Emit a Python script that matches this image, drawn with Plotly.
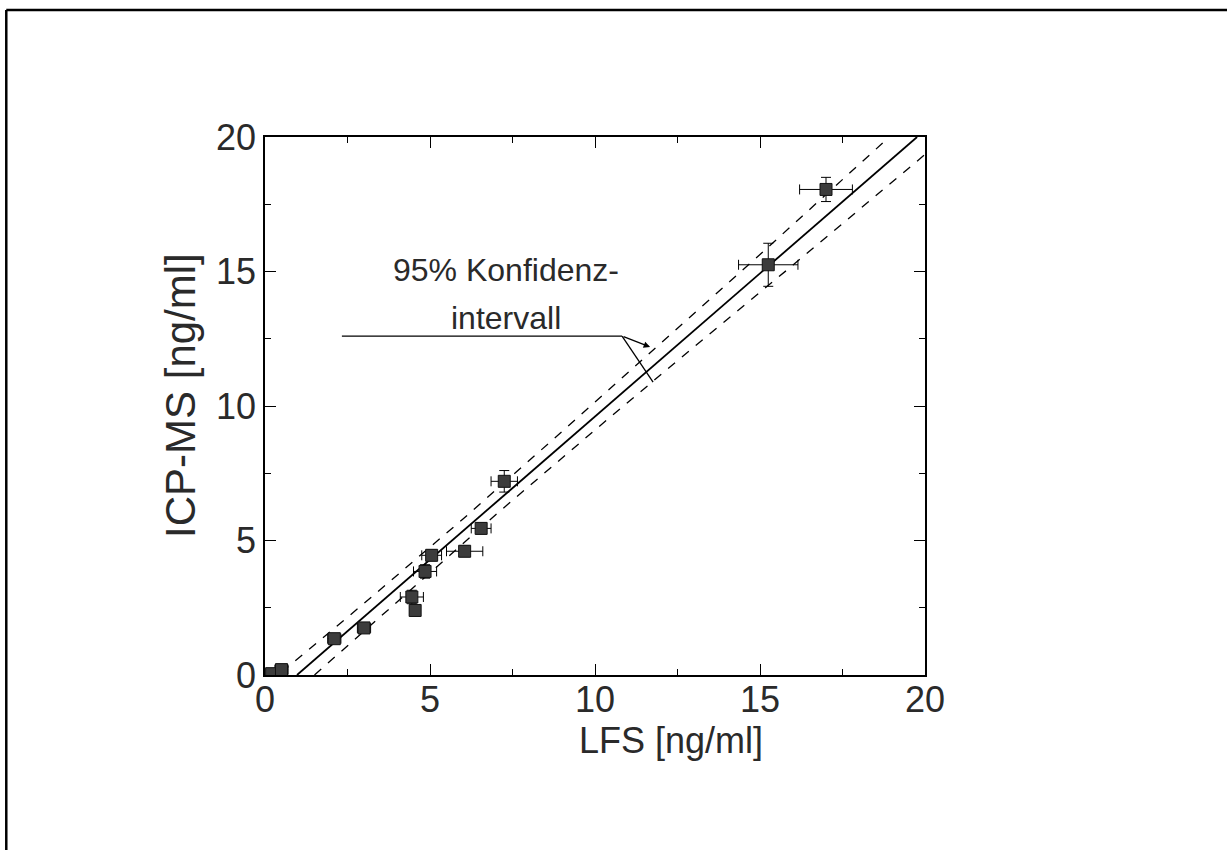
import plotly.graph_objects as go

# ---- data ----
lfs = [0.2, 0.5, 2.1, 3.0, 4.45, 4.55, 4.85, 5.05, 6.05, 6.55, 7.25, 15.25, 17.0]
icp = [0.05, 0.2, 1.35, 1.75, 2.9, 2.4, 3.85, 4.45, 4.6, 5.45, 7.2, 15.25, 18.05]
lfs_err = [0.15, 0.2, 0.2, 0.2, 0.35, 0.15, 0.35, 0.3, 0.55, 0.3, 0.4, 0.9, 0.8]
icp_err = [0.1, 0.1, 0.15, 0.15, 0.25, 0.2, 0.25, 0.2, 0.2, 0.2, 0.4, 0.8, 0.45]

fit_x = [0.97, 19.76]
fit_y = [0.0, 20.0]

upper_x = [0.5, 3, 6, 9, 12, 15, 18.9]
upper_y = [0.1, 2.66, 5.8, 9.05, 12.34, 15.63, 19.98]

lower_x = [1.5, 4, 7, 10, 13, 16, 20]
lower_y = [0.0, 2.73, 5.97, 9.11, 12.2, 15.24, 19.35]

tick_vals = [0, 5, 10, 15, 20]
tick_text = ["0", "5", "10", "15", "20"]

x_title = "LFS [ng/ml]"
y_title = "ICP-MS [ng/ml]"

FONT = "Liberation Sans, Arial, sans-serif"
TXT = "#2a2a2a"

fig = go.Figure()

fig.add_trace(go.Scatter(x=upper_x, y=upper_y, mode="lines",
                         line=dict(color="black", width=1.3, dash="dash"),
                         hoverinfo="skip", showlegend=False))
fig.add_trace(go.Scatter(x=lower_x, y=lower_y, mode="lines",
                         line=dict(color="black", width=1.3, dash="dash"),
                         hoverinfo="skip", showlegend=False))
fig.add_trace(go.Scatter(x=fit_x, y=fit_y, mode="lines",
                         line=dict(color="black", width=1.8),
                         hoverinfo="skip", showlegend=False))
fig.add_trace(go.Scatter(
    x=lfs, y=icp, mode="markers",
    marker=dict(symbol="square", size=12, color="#3c3c3c",
                line=dict(color="#111111", width=1)),
    error_x=dict(type="data", array=lfs_err, color="black", thickness=1, width=5),
    error_y=dict(type="data", array=icp_err, color="black", thickness=1, width=5),
    showlegend=False))

axis_common = dict(
    range=[0, 20], tickvals=tick_vals, ticktext=tick_text,
    showgrid=False, zeroline=False,
    showline=True, linecolor="black", linewidth=1.6, mirror="allticks",
    ticks="inside", ticklen=11, tickwidth=1.3, tickcolor="black",
    tickfont=dict(family=FONT, size=36, color=TXT),
    minor=dict(ticks="inside", ticklen=6, tickwidth=1.1, tickcolor="black", dtick=2.5, tick0=0),
)

fig.update_xaxes(**axis_common, ticklabelstandoff=-8)
fig.update_yaxes(**axis_common)

# axis titles (placed as in the reference)
fig.add_annotation(xref="paper", yref="paper", x=0.615, y=-0.121, text=x_title,
                   xanchor="center", yanchor="middle",
                   showarrow=False, font=dict(family=FONT, size=36, color=TXT))
fig.add_annotation(xref="paper", yref="paper", x=-0.127, y=0.519, text=y_title,
                   xanchor="center", yanchor="middle",
                   textangle=-90, showarrow=False, font=dict(family=FONT, size=42, color=TXT))

# annotation text
fig.add_annotation(x=7.3, y=15.06, text="95% Konfidenz-", showarrow=False,
                   font=dict(family=FONT, size=32, color=TXT))
fig.add_annotation(x=7.3, y=13.27, text="intervall", showarrow=False,
                   font=dict(family=FONT, size=32, color=TXT))
# leader lines
fig.add_shape(type="line", x0=2.33, y0=12.6, x1=10.82, y1=12.6,
              line=dict(color="black", width=1.3))
fig.add_shape(type="line", x0=10.82, y0=12.6, x1=11.76, y1=10.89,
              line=dict(color="black", width=1.3))
fig.add_annotation(x=11.67, y=12.19, ax=10.82, ay=12.6, axref="x", ayref="y",
                   xref="x", yref="y", showarrow=True, arrowhead=2,
                   arrowsize=1, arrowwidth=1.3, arrowcolor="black", text="")

# outer frame (top and left edges)
fig.add_shape(type="line", xref="paper", yref="paper",
              x0=-0.392, y0=1.236, x1=1.46, y1=1.236,
              line=dict(color="black", width=2.5))
fig.add_shape(type="line", xref="paper", yref="paper",
              x0=-0.392, y0=1.236, x1=-0.392, y1=-0.33,
              line=dict(color="black", width=2.5))

fig.update_layout(
    width=1227, height=850,
    margin=dict(l=265, r=302, t=137, b=175),
    plot_bgcolor="white", paper_bgcolor="white",
    showlegend=False,
)

fig.write_html("out.html")
